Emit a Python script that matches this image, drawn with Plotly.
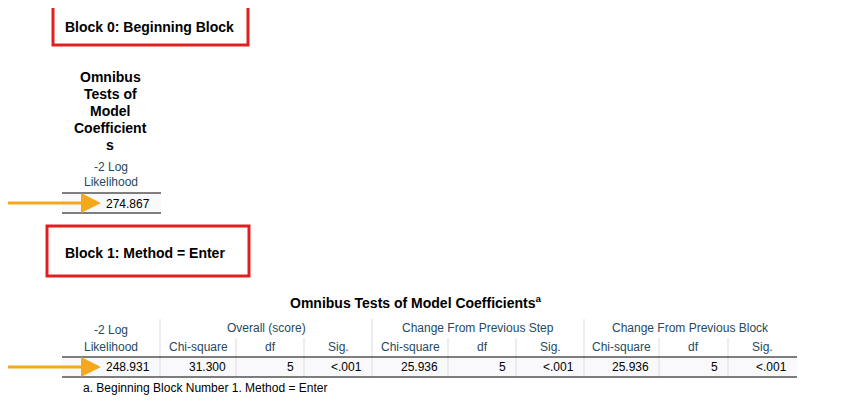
import plotly.graph_objects as go

block0_title = "Block 0: Beginning Block"
block1_title = "Block 1: Method = Enter"
table0_title_lines = ["Omnibus", "Tests of", "Model", "Coefficient", "s"]
table0_header = ["-2 Log", "Likelihood"]
table0_value = "274.867"
table1_title = "Omnibus Tests of Model Coefficients<sup>a</sup>"
groups = ["Overall (score)", "Change From Previous Step", "Change From Previous Block"]
sub_headers = ["Chi-square", "df", "Sig."]
row_values = ["248.931", "31.300", "5", "<.001", "25.936", "5", "<.001", "25.936", "5", "<.001"]
footnote = "a. Beginning Block Number 1. Method = Enter"

HC = "#264a60"
F = "Arial, Liberation Sans, sans-serif"
ORANGE = "#f5a81c"
RED = "#e02020"
LG = "#dcdcdc"

fig = go.Figure()
shapes, ann = [], []

def text(x, y, t, size=12, color="#000", bold=False, anchor="center"):
    ann.append(dict(x=x, y=y, text=f"<b>{t}</b>" if bold else t, showarrow=False,
                    xanchor=anchor, yanchor="middle",
                    font=dict(family=F, size=size, color=color)))

def line(x0, y0, x1, y1, color="#000", w=1):
    shapes.append(dict(type="line", x0=x0, y0=y0, x1=x1, y1=y1, line=dict(color=color, width=w)))

def arrow(x0, x1, y):
    line(x0, y, x1 - 18, y, ORANGE, 3)
    shapes.append(dict(type="path", path=f"M{x1-20},{y-10} L{x1},{y} L{x1-20},{y+10} Z",
                       fillcolor=ORANGE, line=dict(width=0)))

# red boxes
shapes.append(dict(type="rect", x0=53, y0=3, x1=248, y1=45, line=dict(color=RED, width=3)))
text(63, 27, block0_title, 14, bold=True, anchor="left")
shapes.append(dict(type="rect", x0=47, y0=226, x1=249, y1=276, line=dict(color=RED, width=3)))
text(63, 253, block1_title, 14, bold=True, anchor="left")

# table 0
for i, t in enumerate(table0_title_lines):
    text(110, 77 + 17 * i, t, 14, bold=True)
text(111, 167, table0_header[0], 12, HC)
text(111, 182, table0_header[1], 12, HC)
shapes.append(dict(type="rect", x0=62, y0=193, x1=161, y1=213, fillcolor="#f9f9fb", line=dict(width=0), layer="below"))
line(62, 193, 161, 193)
line(62, 213, 161, 213)
text(152, 204, table0_value, 12, anchor="right")
arrow(0, 101, 203)

# table 1
text(416, 302, table1_title, 14, bold=True)
edges = [62, 160, 236, 304, 372, 448, 516, 584, 659, 728, 797]
for gi, g in enumerate(groups):
    x0, x1 = edges[1 + 3 * gi], edges[4 + 3 * gi]
    text((x0 + x1) / 2, 328, g, 12, HC)
    for si, s in enumerate(sub_headers):
        a, b = edges[1 + 3 * gi + si], edges[2 + 3 * gi + si]
        text((a + b) / 2, 347, s, 12, HC)
text(111, 330, table0_header[0], 12, HC)
text(111, 347, table0_header[1], 12, HC)
for i, x in enumerate(edges[1:-1]):
    top = 319 if i % 3 == 0 else 338
    line(x, top, x, 377, LG)
shapes.append(dict(type="rect", x0=62, y0=357, x1=797, y1=377, fillcolor="#f9f9fb", line=dict(width=0), layer="below"))
line(62, 357, 797, 357)
line(62, 377, 797, 377)
for i, v in enumerate(row_values):
    text(edges[i + 1] - 8, 367, v, 12, anchor="right")
text(81, 388, footnote, 12, anchor="left")
arrow(8, 101, 367)

# page body has an 8px margin: shift ranges so content lands at window pixel coords
fig.update_layout(width=860, height=414, margin=dict(l=0, r=0, t=0, b=0),
                  paper_bgcolor="white", plot_bgcolor="white",
                  xaxis=dict(range=[8, 868], visible=False, fixedrange=True),
                  yaxis=dict(range=[422, 8], visible=False, fixedrange=True),
                  shapes=shapes, annotations=ann, showlegend=False)
fig.write_html("out.html")
